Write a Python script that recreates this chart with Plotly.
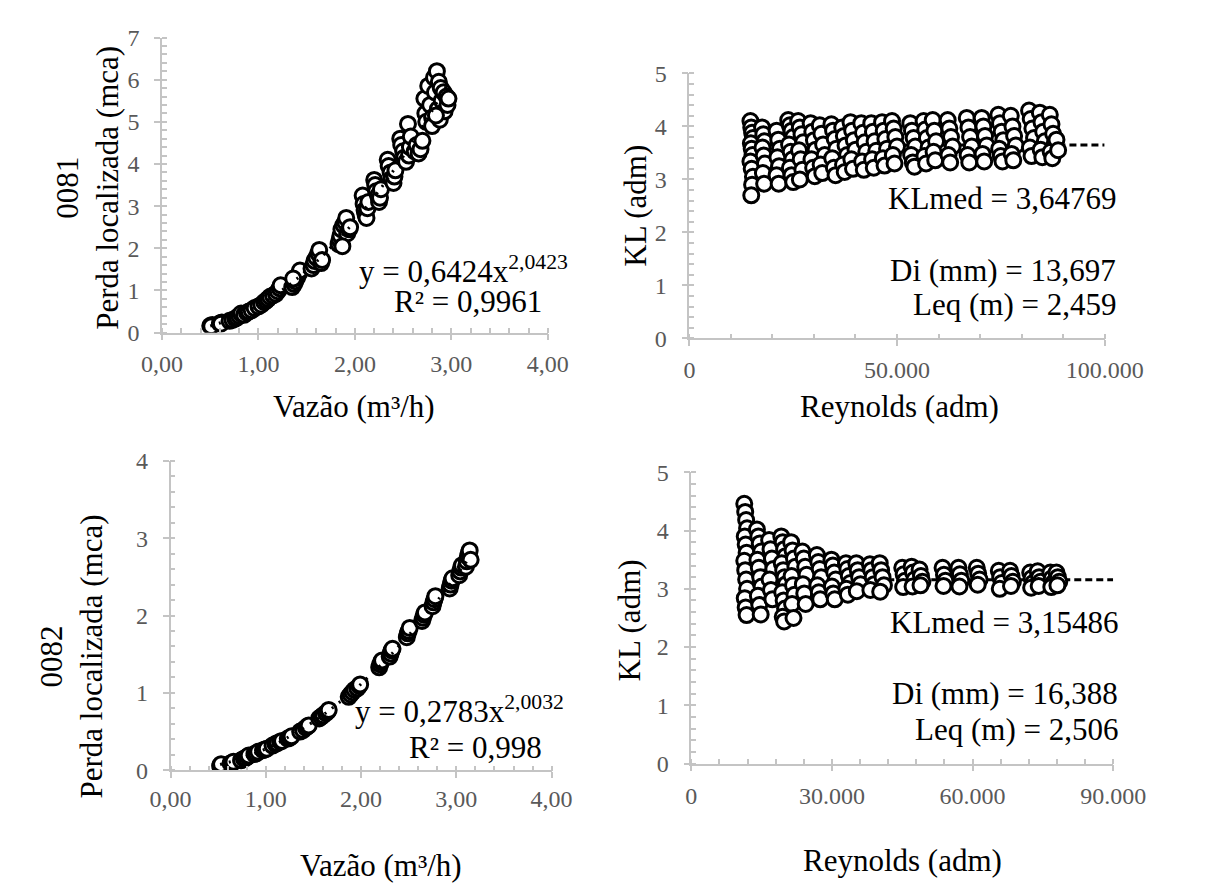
import plotly.graph_objects as go

W, H = 1205, 885
SERIF = "Liberation Serif"
AX = "#c4c4c4"
TICKC = "#595959"

def fx(px):
    return px / W

def fy(py):
    return 1 - py / H

# ---------------- DATA ----------------
# 0081 : head loss vs flow
q_81 = [0.50, 0.52, 0.51, 0.60, 0.62, 0.61,
        0.70, 0.73, 0.76, 0.78, 0.80, 0.82,
        0.85, 0.88, 0.90, 0.93, 0.96,
        1.00, 1.03, 1.06, 1.08, 1.10, 1.12,
        1.15, 1.18, 1.20, 1.22, 1.23,
        1.35, 1.37, 1.38, 1.40, 1.42, 1.43, 1.36,
        1.55, 1.57, 1.58, 1.60, 1.62, 1.63, 1.65, 1.66,
        1.83, 1.84, 1.85, 1.86, 1.88, 1.90, 1.91, 1.92, 1.94, 1.95, 1.87,
        2.08, 2.09, 2.10, 2.11, 2.12, 2.13, 2.14,
        2.20, 2.21, 2.22, 2.24, 2.25, 2.26, 2.27,
        2.34, 2.35, 2.37, 2.38, 2.40, 2.41, 2.42,
        2.47, 2.48, 2.50, 2.51, 2.53, 2.55, 2.56, 2.57, 2.58,
        2.62, 2.64, 2.66, 2.68, 2.70,
        2.72, 2.73, 2.74, 2.76, 2.78, 2.80, 2.80, 2.82, 2.83, 2.85, 2.86,
        2.87, 2.88, 2.89, 2.90, 2.92, 2.93, 2.95, 2.96, 2.97, 2.84]
hl_81 = [0.16, 0.18, 0.15, 0.22, 0.24, 0.21,
         0.28, 0.30, 0.33, 0.36, 0.40, 0.45,
         0.42, 0.47, 0.50, 0.53, 0.58,
         0.62, 0.66, 0.72, 0.76, 0.80, 0.85,
         0.88, 0.92, 0.98, 1.05, 1.12,
         1.08, 1.15, 1.22, 1.30, 1.40, 1.47, 1.28,
         1.52, 1.60, 1.70, 1.78, 1.88, 1.96, 1.65, 1.72,
         2.10, 2.20, 2.30, 2.45, 2.55, 2.62, 2.72, 2.35, 2.45, 2.50, 2.05,
         3.25, 3.05, 2.90, 2.80, 2.72, 2.95, 3.10,
         3.62, 3.50, 3.35, 3.25, 3.10, 3.20, 3.40,
         4.10, 3.95, 3.80, 3.65, 3.55, 3.70, 3.85,
         4.60, 4.45, 4.30, 4.15, 4.05, 4.95, 4.20, 4.40, 4.65,
         4.30, 4.45, 4.25, 4.35, 4.55,
         5.55, 5.20, 5.00, 5.85, 5.40, 5.10, 4.90, 6.05, 5.70, 6.20, 5.30,
         5.95, 5.05, 5.80, 5.50, 5.70, 5.25, 5.60, 5.40, 5.55, 5.15]
fit_81_a, fit_81_b = 0.6424, 2.0423

# 0081 : KL vs Reynolds (one list per flow setting)
re_groups_81 = [
    [14700, 14900, 15100, 15300, 14800, 15000, 15200, 14700, 15000, 15300, 15100, 14900],
    [17500, 17800, 18100, 17600, 17900, 18200, 17700, 18000],
    [21000, 21400, 21800, 21200, 21600, 21000, 21500],
    [23800, 24200, 24600, 25000, 24000, 24400, 24800, 24200, 24600, 25000],
    [26200, 26600, 27000, 27400, 26400, 26800, 27200, 26600],
    [29200, 29600, 30000, 30400, 29400, 29800, 30200],
    [31400, 31800, 32200, 32600, 31600, 32000],
    [34200, 34600, 35000, 35400, 34400, 34800, 35200],
    [36800, 37200, 37600, 38000, 37000, 37400],
    [38800, 39200, 39600, 40000, 39000, 39400],
    [41400, 41800, 42200, 42600, 41600, 42000],
    [43800, 44200, 44600, 45000, 44000, 44400],
    [46400, 46800, 47200, 47600, 46600, 47000],
    [48800, 49200, 49600, 50000, 49000, 49400],
    [53200, 53600, 54000, 54400, 53400, 53800, 54200],
    [56400, 56800, 57200, 57600, 56600, 57000],
    [58600, 59000, 59400, 58800, 59200],
    [62200, 62600, 63000, 63400, 62400, 62800],
    [66800, 67200, 67600, 68000, 67000, 67400],
    [70400, 70800, 71200, 71600, 70600, 71000],
    [74400, 74800, 75200, 75600, 74600, 75000, 75400],
    [77400, 77800, 78200, 78600, 77600, 78000],
    [81800, 82200, 82600, 83000, 82000, 82400],
    [84400, 84800, 85200, 85600, 84600, 85000],
    [86800, 87200, 87600, 88000, 87000, 87400, 88400, 88800],
]
kl_groups_81 = [
    [4.10, 3.98, 3.88, 3.78, 3.68, 3.58, 3.46, 3.34, 3.20, 3.05, 2.90, 2.70],
    [3.98, 3.85, 3.72, 3.60, 3.45, 3.30, 3.12, 2.92],
    [3.92, 3.75, 3.58, 3.42, 3.25, 3.08, 2.92],
    [4.12, 4.02, 3.92, 3.80, 3.66, 3.52, 3.38, 3.22, 3.08, 2.95],
    [4.10, 3.98, 3.85, 3.70, 3.55, 3.38, 3.18, 3.00],
    [4.06, 3.90, 3.74, 3.56, 3.38, 3.22, 3.06],
    [4.02, 3.86, 3.66, 3.46, 3.28, 3.12],
    [4.04, 3.92, 3.76, 3.58, 3.40, 3.22, 3.08],
    [3.98, 3.82, 3.64, 3.46, 3.28, 3.14],
    [4.08, 3.92, 3.74, 3.56, 3.38, 3.20],
    [4.06, 3.88, 3.70, 3.52, 3.34, 3.18],
    [4.06, 3.90, 3.72, 3.54, 3.38, 3.22],
    [4.08, 3.92, 3.76, 3.58, 3.40, 3.26],
    [4.10, 3.96, 3.80, 3.62, 3.46, 3.30],
    [4.06, 3.92, 3.78, 3.62, 3.46, 3.32, 3.24],
    [4.10, 3.94, 3.78, 3.60, 3.44, 3.30],
    [4.12, 3.92, 3.72, 3.52, 3.36],
    [4.12, 3.96, 3.80, 3.62, 3.46, 3.32],
    [4.16, 3.98, 3.80, 3.62, 3.46, 3.32],
    [4.16, 4.00, 3.82, 3.64, 3.48, 3.34],
    [4.22, 4.06, 3.90, 3.74, 3.58, 3.44, 3.34],
    [4.20, 4.00, 3.82, 3.64, 3.48, 3.36],
    [4.30, 4.14, 3.96, 3.78, 3.60, 3.44],
    [4.26, 4.08, 3.90, 3.72, 3.56, 3.42],
    [4.22, 4.04, 3.86, 3.68, 3.52, 3.40, 3.75, 3.55],
]
klmed_81 = 3.64769
re_max_81 = 100000

# 0082 : head loss vs flow
q_82 = [0.52, 0.54, 0.53, 0.63, 0.65, 0.66,
        0.74, 0.77, 0.79, 0.81, 0.82,
        0.88, 0.90, 0.92, 0.97, 0.99, 1.01,
        1.07, 1.10, 1.12, 1.15, 1.17, 1.23, 1.25, 1.27,
        1.36, 1.39, 1.42, 1.44, 1.45,
        1.56, 1.58, 1.60, 1.63, 1.65, 1.66,
        1.87, 1.89, 1.91, 1.93, 1.96, 1.98, 1.99,
        2.19, 2.20, 2.21, 2.22, 2.30, 2.31, 2.32, 2.33,
        2.48, 2.49, 2.50, 2.51, 2.64, 2.65, 2.66, 2.67,
        2.75, 2.76, 2.77, 2.78, 2.93, 2.94, 2.95, 2.96,
        3.03, 3.04, 3.05, 3.06, 3.10, 3.11, 3.12, 3.13, 3.14, 3.15]
hl_82 = [0.06, 0.07, 0.08, 0.09, 0.10, 0.11,
         0.13, 0.15, 0.16, 0.18, 0.19,
         0.21, 0.22, 0.24, 0.26, 0.27, 0.28,
         0.32, 0.34, 0.35, 0.37, 0.38, 0.41, 0.42, 0.44,
         0.50, 0.52, 0.55, 0.57, 0.58,
         0.67, 0.69, 0.71, 0.74, 0.76, 0.78,
         0.95, 0.98, 1.01, 1.04, 1.06, 1.09, 1.11,
         1.33, 1.37, 1.40, 1.42, 1.47, 1.51, 1.55, 1.57,
         1.72, 1.77, 1.80, 1.84, 1.93, 1.97, 2.01, 2.04,
         2.12, 2.17, 2.21, 2.25, 2.35, 2.40, 2.45, 2.48,
         2.52, 2.57, 2.62, 2.65, 2.63, 2.70, 2.76, 2.81, 2.84, 2.72]
fit_82_a, fit_82_b = 0.2783, 2.0032

# 0082 : KL vs Reynolds
re_groups_82 = [
    [11300, 11500, 11700, 11900, 11400, 11600, 11800, 11300, 11500, 11700, 11900, 11400, 11600, 11800],
    [14000, 14300, 14600, 14900, 14100, 14400, 14700, 15000, 14200, 14500, 14800],
    [16600, 16900, 17200, 17500, 16700, 17000, 17300],
    [19200, 19500, 19800, 20100, 19300, 19600, 19900, 20200, 19400, 19700, 20000, 19500, 19800],
    [21300, 21600, 21900, 22200, 21400, 21700, 22000, 21500, 21800],
    [23700, 24000, 24300, 24600, 23800, 24100, 24400],
    [26800, 27100, 27400, 27700, 26900, 27200, 27500],
    [29900, 30200, 30500, 30800, 30000, 30300, 30600],
    [33000, 33300, 33600, 33900, 33100, 33400],
    [35200, 35500, 35800, 36100, 35300],
    [38100, 38400, 38700, 39000, 38200],
    [40200, 40500, 40800, 41100, 40300],
    [45000, 45300, 45600, 45200],
    [47000, 47300, 47600, 47200],
    [48700, 49000, 49300, 48900],
    [53600, 53900, 54200, 53800],
    [57000, 57300, 57600, 57200],
    [60900, 61200, 61500, 61100],
    [65600, 65900, 66200, 65800],
    [68000, 68300, 68600, 68200],
    [72300, 72600, 72900, 72500],
    [73900, 74200, 74500, 74100],
    [76600, 76900, 77200, 76800],
    [77900, 78200, 78500, 78100],
]
kl_groups_82 = [
    [4.46, 4.32, 4.18, 4.04, 3.90, 3.76, 3.62, 3.48, 3.32, 3.16, 3.00, 2.84, 2.68, 2.55],
    [4.02, 3.90, 3.78, 3.64, 3.50, 3.36, 3.20, 3.04, 2.88, 2.72, 2.56],
    [3.84, 3.68, 3.52, 3.34, 3.16, 2.98, 2.82],
    [3.90, 3.80, 3.68, 3.56, 3.44, 3.32, 3.20, 3.08, 2.94, 2.80, 2.66, 2.52, 2.44],
    [3.80, 3.66, 3.52, 3.38, 3.22, 3.06, 2.90, 2.74, 2.50],
    [3.64, 3.52, 3.38, 3.24, 3.08, 2.92, 2.74],
    [3.58, 3.46, 3.34, 3.20, 3.06, 2.94, 2.82],
    [3.50, 3.40, 3.28, 3.16, 3.04, 2.92, 2.82],
    [3.44, 3.34, 3.22, 3.10, 3.00, 2.90],
    [3.44, 3.32, 3.20, 3.08, 2.96],
    [3.42, 3.32, 3.20, 3.08, 2.98],
    [3.44, 3.32, 3.20, 3.06, 2.95],
    [3.36, 3.25, 3.14, 3.03],
    [3.38, 3.28, 3.16, 3.04],
    [3.33, 3.22, 3.12, 3.06],
    [3.36, 3.24, 3.14, 3.05],
    [3.36, 3.25, 3.14, 3.04],
    [3.36, 3.26, 3.16, 3.07],
    [3.31, 3.20, 3.10, 3.00],
    [3.31, 3.22, 3.12, 3.05],
    [3.28, 3.18, 3.10, 3.02],
    [3.30, 3.20, 3.12, 3.05],
    [3.28, 3.18, 3.10, 3.03],
    [3.28, 3.20, 3.12, 3.06],
]
klmed_82 = 3.15486
re_max_82 = 90000


def flatten(groups):
    return [v for g in groups for v in g]

re_81, kl_81 = flatten(re_groups_81), flatten(kl_groups_81)
re_82, kl_82 = flatten(re_groups_82), flatten(kl_groups_82)

# ---------------- FIGURE ----------------
fig = go.Figure()
marker = dict(symbol="circle", size=15, color="white", line=dict(color="black", width=3))
dotted = dict(color="black", width=3, dash="2px,7px")
dashed = dict(color="black", width=3, dash="7px,4px")

# top-left
fig.add_trace(go.Scatter(x=q_81, y=hl_81, mode="markers", marker=marker, xaxis="x", yaxis="y"))
qs = sorted(q_81)
fig.add_trace(go.Scatter(x=qs, y=[fit_81_a * q ** fit_81_b for q in qs], mode="lines",
                         line=dotted, xaxis="x", yaxis="y"))
# top-right
fig.add_trace(go.Scatter(x=[min(re_81), re_max_81], y=[klmed_81, klmed_81], mode="lines",
                         line=dashed, xaxis="x2", yaxis="y2"))
fig.add_trace(go.Scatter(x=re_81, y=kl_81, mode="markers", marker=marker, xaxis="x2", yaxis="y2"))
# bottom-left
fig.add_trace(go.Scatter(x=q_82, y=hl_82, mode="markers", marker=marker, xaxis="x3", yaxis="y3"))
qs2 = sorted(q_82)
fig.add_trace(go.Scatter(x=qs2, y=[fit_82_a * q ** fit_82_b for q in qs2], mode="lines",
                         line=dotted, xaxis="x3", yaxis="y3"))
# bottom-right
fig.add_trace(go.Scatter(x=[min(re_82), re_max_82], y=[klmed_82, klmed_82], mode="lines",
                         line=dashed, xaxis="x4", yaxis="y4"))
fig.add_trace(go.Scatter(x=re_82, y=kl_82, mode="markers", marker=marker, xaxis="x4", yaxis="y4"))


def axis(domain, rng, dtick, minor_dtick, fmt, standoff, anchor):
    return dict(domain=domain, range=rng, anchor=anchor, showgrid=False, zeroline=False,
                showline=True, linecolor=AX, linewidth=1.5, mirror=False,
                tickmode="linear", tick0=0, dtick=dtick, tickformat=fmt,
                ticks="outside", ticklen=6, tickwidth=1.5, tickcolor=AX,
                ticklabelstandoff=standoff,
                tickfont=dict(family=SERIF, size=24, color=TICKC),
                minor=dict(ticks="inside", ticklen=5, tickwidth=1.5, tickcolor=AX,
                           dtick=minor_dtick, tick0=0, showgrid=False),
                fixedrange=True)


def cross(base, anchor, rng, dtick):
    # inner half of the crossing major ticks
    return dict(overlaying=base, anchor=anchor, range=rng, showgrid=False, zeroline=False,
                showline=False, tickmode="linear", tick0=0, dtick=dtick, ticks="inside",
                ticklen=6, tickwidth=1.5, tickcolor=AX, showticklabels=False, fixedrange=True)


fig.update_layout(
    width=W, height=H, margin=dict(l=0, r=0, t=0, b=0),
    paper_bgcolor="white", plot_bgcolor="white", showlegend=False,
    separators=",.",
    xaxis=axis([fx(140), fx(546)], [0, 4], 1, 0.2, ".2f", 3, "y"),
    yaxis=axis([fy(321), fy(17)], [0, 7], 1, 0.2, "d", 10, "x"),
    xaxis2=axis([fx(695), fx(1132)], [0, 100000], 50000, 10000, ",d", 3, "y2"),
    yaxis2=axis([fy(327), fy(54)], [0, 5], 1, 0.2, "d", 10, "x2"),
    xaxis3=axis([fx(149), fx(550)], [0, 4], 1, 0.2, ".2f", 0, "y3"),
    yaxis3=axis([fy(772), fy(453)], [0, 4], 1, 0.2, "d", 10, "x3"),
    xaxis4=axis([fx(697), fx(1141)], [0, 90000], 30000, 6000, ",d", 4, "y4"),
    yaxis4=axis([fy(765), fy(465)], [0, 5], 1, 0.2, "d", 10, "x4"),
    xaxis5=cross("x", "y", [0, 4], 1),
    yaxis5=cross("y", "x", [0, 7], 1),
    xaxis6=cross("x2", "y2", [0, 100000], 50000),
    yaxis6=cross("y2", "x2", [0, 5], 1),
    xaxis7=cross("x3", "y3", [0, 4], 1),
    yaxis7=cross("y3", "x3", [0, 4], 1),
    xaxis8=cross("x4", "y4", [0, 90000], 30000),
    yaxis8=cross("y4", "x4", [0, 5], 1),
)

TXT = dict(family=SERIF, size=31, color="black")

def ann(text, px, py, xanchor="center", angle=0, align="center"):
    fig.add_annotation(text=text, x=fx(px), y=fy(py), xref="paper", yref="paper",
                       xanchor=xanchor, yanchor="middle", showarrow=False, textangle=angle,
                       align=align, font=TXT)

# axis titles
ann("0081<br>Perda localizada (mca)", 62, 172, angle=-90)
ann("Vazão (m³/h)", 342, 397)
ann("KL (adm)", 638, 190, angle=-90)
ann("Reynolds (adm)", 916, 397)
ann("0082<br>Perda localizada (mca)", 45, 655, angle=-90)
ann("Vazão (m³/h)", 370, 870)
ann("KL (adm)", 632, 618, angle=-90)
ann("Reynolds (adm)", 919, 865)

# equations / labels
ann("y = 0,6424x<sup>2,0423</sup>", 569, 256, xanchor="right")
ann("R² = 0,9961", 462, 289)
ann("KLmed = 3,64769", 1146, 183, xanchor="right")
ann("Di (mm) = 13,697", 1146, 257, xanchor="right")
ann("Leq (m) = 2,459", 1146, 292, xanchor="right")
ann("y = 0,2783x<sup>2,0032</sup>", 565, 709, xanchor="right")
ann("R² = 0,998", 470, 749)
ann("KLmed = 3,15486", 1148, 620, xanchor="right")
ann("Di (mm) = 16,388", 1148, 693, xanchor="right")
ann("Leq (m) = 2,506", 1148, 730, xanchor="right")

fig.write_html("out.html")
